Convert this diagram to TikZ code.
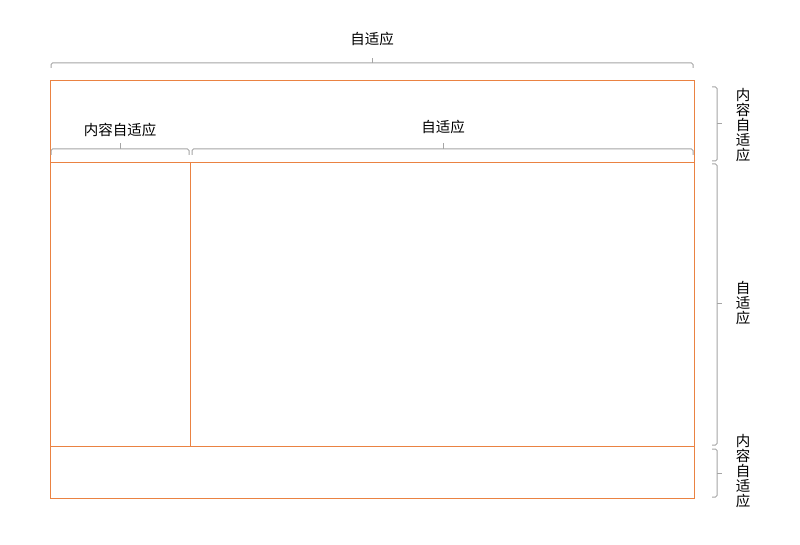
\documentclass[tikz,border=0pt]{standalone}
\usepackage{fontspec}
\setmainfont{Noto Sans CJK SC}

\definecolor{framec}{RGB}{234,130,66}
\definecolor{bracec}{RGB}{165,165,165}

\begin{document}
\begin{tikzpicture}[x=1pt,y=1pt,
    box/.style={draw=framec, line width=0.9pt},
    bracket/.style={draw=bracec, line width=1pt, rounded corners=1.5pt},
    lbl/.style={inner sep=0pt, font=\fontsize{14.5}{14.8}\selectfont, text=black},
    vlbl/.style={lbl, align=center}]
  \useasboundingbox (0,0) rectangle (800,544);
  \coordinate (nw) at (50,464);
  \coordinate (se) at (694,46);
  \coordinate (hl) at (50,382);
  \coordinate (hr) at (694,382);
  \coordinate (fl) at (50,98);
  \coordinate (fr) at (694,98);
  \coordinate (ct) at (190,382);
  \coordinate (cb) at (190,98);
  \draw[box] (nw) rectangle (se);
  \draw[box] (hl) -- (hr);
  \draw[box] (fl) -- (fr);
  \draw[box] (ct) -- (cb);

  \draw[bracket] (51,476) |- (372,481) -| (693,476);
  \draw[bracket] (372,481) -- (372,486);
  \draw[bracket] (51,389) |- (120,395) -| (189,389);
  \draw[bracket] (120,395) -- (120,401);
  \draw[bracket] (192,389) |- (443,395) -| (693,389);
  \draw[bracket] (443,395) -- (443,401);

  \draw[bracket] (712,457) -| (717,420) |- (712,383);
  \draw[bracket] (717,420) -- (722,420);
  \draw[bracket] (712,380) -| (717,240) |- (712,99);
  \draw[bracket] (717,240) -- (722,240);
  \draw[bracket] (712,95) -| (717,71) |- (712,47);
  \draw[bracket] (717,71) -- (722,71);

  \node[lbl] (top) at (372,505.5) {自适应};
  \node[lbl] (side) at (120,414) {内容自适应};
  \node[lbl] (main) at (443,417) {自适应};
  \node[vlbl] (head) at (743,419) {内\\容\\自\\适\\应};
  \node[vlbl] (body) at (743,241) {自\\适\\应};
  \node[vlbl] (foot) at (743,73) {内\\容\\自\\适\\应};
\end{tikzpicture}
\end{document}
